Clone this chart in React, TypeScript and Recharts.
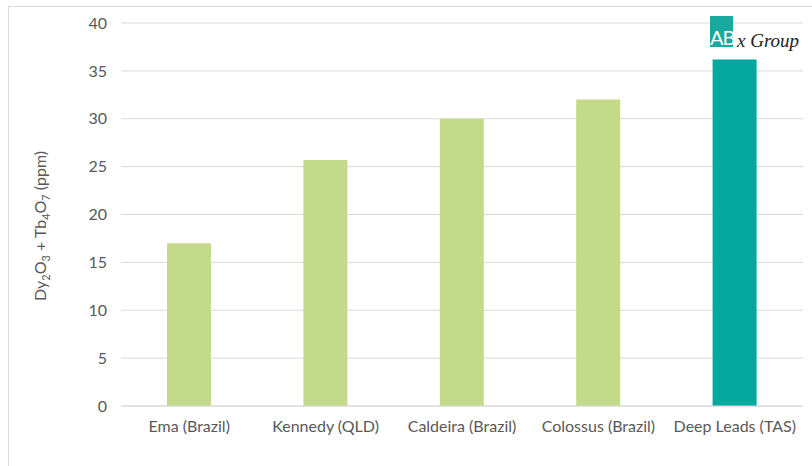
import React from 'react';
import { BarChart, Bar, XAxis, YAxis, CartesianGrid, Cell } from 'recharts';

const deposits = ['Ema (Brazil)', 'Kennedy (QLD)', 'Caldeira (Brazil)', 'Colossus (Brazil)', 'Deep Leads (TAS)'];
const grades = [17.0, 25.7, 30.0, 32.0, 36.2];
const barColors = ['#c4da8b', '#c4da8b', '#c4da8b', '#c4da8b', '#04a89e'];
const yTicks = [0, 5, 10, 15, 20, 25, 30, 35, 40];

const chartData = deposits.map((name, i) => ({ name, value: grades[i] }));

const font = 'Lato, "Open Sans", sans-serif';

// rotated axis title with subscripts
const YTitle = () => (
  <text
    transform="translate(46, 226) rotate(-90)"
    textAnchor="middle"
    fill="#595959"
    fontSize={16}
    fontFamily={font}
  >
    Dy<tspan fontSize={11} dy={4}>2</tspan>
    <tspan dy={-4}>O</tspan>
    <tspan fontSize={11} dy={4}>3</tspan>
    <tspan dy={-4}> + Tb</tspan>
    <tspan fontSize={11} dy={4}>4</tspan>
    <tspan dy={-4}>O</tspan>
    <tspan fontSize={11} dy={4}>7</tspan>
    <tspan dy={-4}> (ppm)</tspan>
  </text>
);

export default function App() {
  return (
    <div style={{ position: 'absolute', left: 0, top: 0, width: 812, height: 466, background: '#fff', overflow: 'hidden' }}>
      <div
        style={{
          position: 'absolute',
          left: 8,
          top: 6,
          width: 820,
          height: 480,
          borderLeft: '1px solid #d9d9d9',
          borderTop: '1px solid #d9d9d9',
        }}
      />
      <div style={{ position: 'absolute', left: 0, top: 0 }}>
        <BarChart
          width={812}
          height={466}
          data={chartData}
          margin={{ top: 23, right: 9, left: 0, bottom: 20 }}
          barSize={44}
        >
          <CartesianGrid vertical={false} stroke="#d9d9d9" />
          <XAxis
            dataKey="name"
            height={40}
            axisLine={{ stroke: '#d9d9d9' }}
            tickLine={false}
            tickMargin={9}
            tick={{ fill: '#595959', fontSize: 16, fontFamily: font }}
            interval={0}
          />
          <YAxis
            width={121}
            domain={[0, 40]}
            ticks={yTicks}
            axisLine={false}
            tickLine={false}
            tickMargin={8}
            tick={{ fill: '#595959', fontSize: 16, fontFamily: font }}
            label={<YTitle />}
          />
          <Bar dataKey="value" isAnimationActive={false}>
            {chartData.map((d, i) => (
              <Cell key={d.name} fill={barColors[i]} />
            ))}
          </Bar>
        </BarChart>
      </div>
      {/* logo */}
      <div style={{ position: 'absolute', left: 710, top: 16, width: 23, height: 31, background: '#1aa99e' }} />
      <div
        style={{
          position: 'absolute',
          left: 710,
          top: 26,
          color: '#fff',
          fontFamily: font,
          fontSize: 20,
          lineHeight: '22px',
          letterSpacing: -1,
        }}
      >
        AB
      </div>
      <div
        style={{
          position: 'absolute',
          left: 737,
          top: 30,
          color: '#222',
          fontFamily: '"Liberation Serif", serif',
          fontStyle: 'italic',
          fontSize: 19,
          lineHeight: '22px',
        }}
      >
        x Group
      </div>
    </div>
  );
}
